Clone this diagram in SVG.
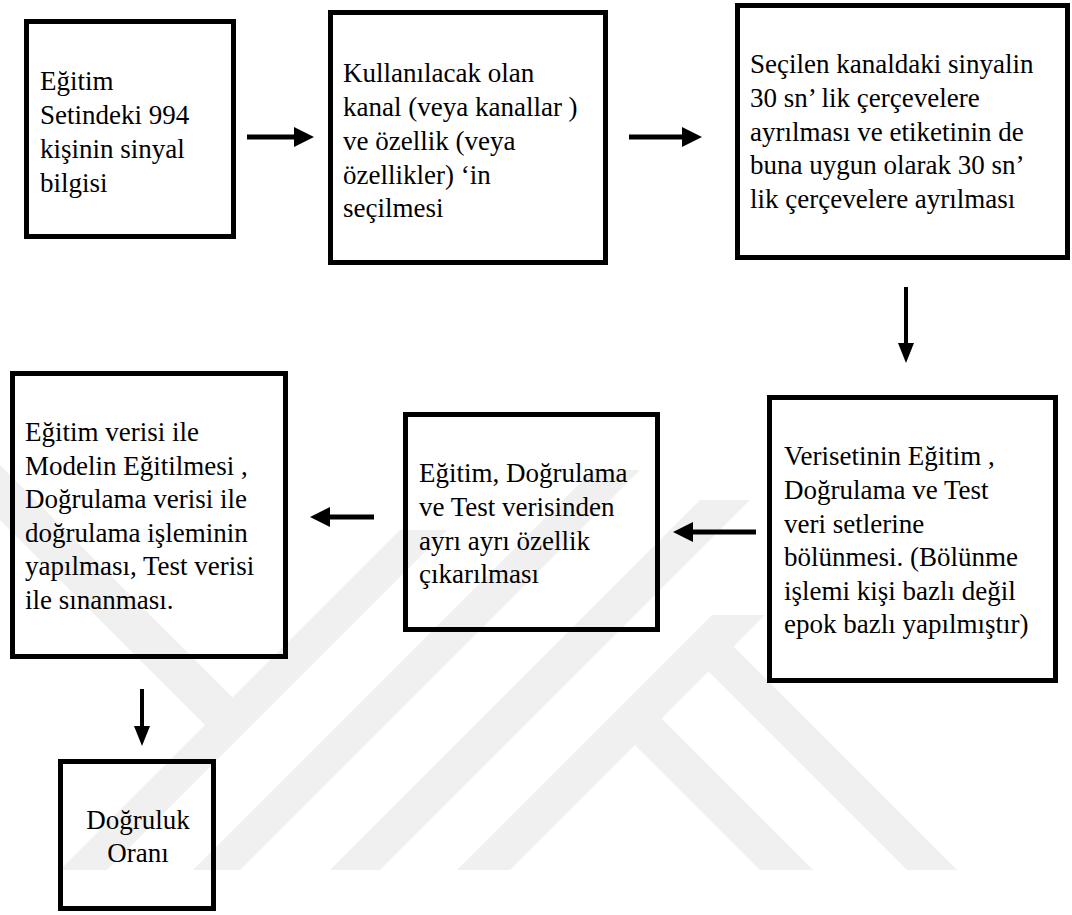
<svg xmlns="http://www.w3.org/2000/svg" width="1072" height="915" viewBox="0 0 1072 915">
<defs>
<marker id="mh" markerUnits="userSpaceOnUse" markerWidth="20" markerHeight="20" refX="4" refY="10" orient="auto"><path d="M0,0 L20,10 L0,20 Z" fill="#000"/></marker>
<marker id="mv" markerUnits="userSpaceOnUse" markerWidth="20" markerHeight="16" refX="4" refY="8" orient="auto"><path d="M0,0 L20,8 L0,16 Z" fill="#000"/></marker>
</defs>
<rect width="1072" height="915" fill="#fff"/>
<g id="watermark" fill="#f0f0f0" stroke="none">
<polygon points="60,870 107,870 447,530 400,530"/>
<polygon points="0,465 232.5,697.5 205,725 0,520"/>
<polygon points="193,870 240,870 640,470 593,470"/>
<polygon points="330,870 380,870 750,500 700,500"/>
<polygon points="457,870 510,870 765,615 712,615"/>
<polygon points="661.5,718.5 813,870 760,870 635,745"/>
<polygon points="733.5,646.5 957,870 907,870 708.5,671.5"/>
</g>
<g id="node1">
<rect x="26.5" y="21.5" width="207" height="215" fill="none" stroke="#000" stroke-width="5"/>
<text x="40" y="90" font-family="Times New Roman, Liberation Serif, serif" font-size="27">Eğitim</text>
<text x="40" y="124" font-family="Times New Roman, Liberation Serif, serif" font-size="27">Setindeki 994</text>
<text x="40" y="158" font-family="Times New Roman, Liberation Serif, serif" font-size="27">kişinin sinyal</text>
<text x="40" y="192" font-family="Times New Roman, Liberation Serif, serif" font-size="27">bilgisi</text>
</g>
<g id="node2">
<rect x="330.5" y="12.5" width="275" height="250" fill="none" stroke="#000" stroke-width="5"/>
<text x="343" y="82" font-family="Times New Roman, Liberation Serif, serif" font-size="27">Kullanılacak olan</text>
<text x="343" y="116" font-family="Times New Roman, Liberation Serif, serif" font-size="27">kanal (veya kanallar )</text>
<text x="343" y="150" font-family="Times New Roman, Liberation Serif, serif" font-size="27">ve özellik (veya</text>
<text x="343" y="184" font-family="Times New Roman, Liberation Serif, serif" font-size="27">özellikler) ‘in</text>
<text x="343" y="217" font-family="Times New Roman, Liberation Serif, serif" font-size="27">seçilmesi</text>
</g>
<g id="node3">
<rect x="737.5" y="5.5" width="330" height="252" fill="none" stroke="#000" stroke-width="5"/>
<text x="750" y="73" font-family="Times New Roman, Liberation Serif, serif" font-size="27">Seçilen kanaldaki sinyalin</text>
<text x="750" y="107" font-family="Times New Roman, Liberation Serif, serif" font-size="27">30 sn’ lik çerçevelere</text>
<text x="750" y="141" font-family="Times New Roman, Liberation Serif, serif" font-size="27">ayrılması ve etiketinin de</text>
<text x="750" y="174" font-family="Times New Roman, Liberation Serif, serif" font-size="27">buna uygun olarak 30 sn’</text>
<text x="750" y="208" font-family="Times New Roman, Liberation Serif, serif" font-size="27">lik çerçevelere ayrılması</text>
</g>
<g id="node4">
<rect x="769.5" y="397.5" width="286" height="283" fill="none" stroke="#000" stroke-width="5"/>
<text x="784" y="465" font-family="Times New Roman, Liberation Serif, serif" font-size="27">Verisetinin Eğitim ,</text>
<text x="784" y="499" font-family="Times New Roman, Liberation Serif, serif" font-size="27">Doğrulama ve Test</text>
<text x="784" y="533" font-family="Times New Roman, Liberation Serif, serif" font-size="27">veri setlerine</text>
<text x="784" y="566" font-family="Times New Roman, Liberation Serif, serif" font-size="27">bölünmesi. (Bölünme</text>
<text x="784" y="600" font-family="Times New Roman, Liberation Serif, serif" font-size="27">işlemi kişi bazlı değil</text>
<text x="784" y="633" font-family="Times New Roman, Liberation Serif, serif" font-size="27">epok bazlı yapılmıştır)</text>
</g>
<g id="node5">
<rect x="405.5" y="414.5" width="252" height="215" fill="none" stroke="#000" stroke-width="5"/>
<text x="419" y="482" font-family="Times New Roman, Liberation Serif, serif" font-size="27">Eğitim, Doğrulama</text>
<text x="419" y="516" font-family="Times New Roman, Liberation Serif, serif" font-size="27">ve Test verisinden</text>
<text x="419" y="550" font-family="Times New Roman, Liberation Serif, serif" font-size="27">ayrı ayrı özellik</text>
<text x="419" y="583" font-family="Times New Roman, Liberation Serif, serif" font-size="27">çıkarılması</text>
</g>
<g id="node6">
<rect x="12.5" y="373.5" width="273" height="283" fill="none" stroke="#000" stroke-width="5"/>
<text x="25" y="441" font-family="Times New Roman, Liberation Serif, serif" font-size="27">Eğitim verisi ile</text>
<text x="25" y="475" font-family="Times New Roman, Liberation Serif, serif" font-size="27">Modelin Eğitilmesi ,</text>
<text x="25" y="508" font-family="Times New Roman, Liberation Serif, serif" font-size="27">Doğrulama verisi ile</text>
<text x="25" y="542" font-family="Times New Roman, Liberation Serif, serif" font-size="27">doğrulama işleminin</text>
<text x="25" y="575" font-family="Times New Roman, Liberation Serif, serif" font-size="27">yapılması, Test verisi</text>
<text x="25" y="609" font-family="Times New Roman, Liberation Serif, serif" font-size="27">ile sınanması.</text>
</g>
<g id="node7">
<rect x="60.5" y="761.5" width="153" height="147" fill="none" stroke="#000" stroke-width="5"/>
<text x="138" y="829" font-family="Times New Roman, Liberation Serif, serif" font-size="27" text-anchor="middle">Doğruluk</text>
<text x="138" y="862" font-family="Times New Roman, Liberation Serif, serif" font-size="27" text-anchor="middle">Oranı</text>
</g>
<g id="connectors" fill="none" stroke="#000" stroke-width="5">
<line x1="247" y1="137" x2="298" y2="137" marker-end="url(#mh)"/>
<line x1="629" y1="137" x2="686" y2="137" marker-end="url(#mh)"/>
<line x1="906" y1="287" x2="906" y2="347" stroke-width="4" marker-end="url(#mv)"/>
<line x1="756" y1="532" x2="689" y2="532" marker-end="url(#mh)"/>
<line x1="374" y1="517" x2="326" y2="517" marker-end="url(#mh)"/>
<line x1="142" y1="689" x2="142" y2="730" stroke-width="4" marker-end="url(#mv)"/>
</g>
</svg>
